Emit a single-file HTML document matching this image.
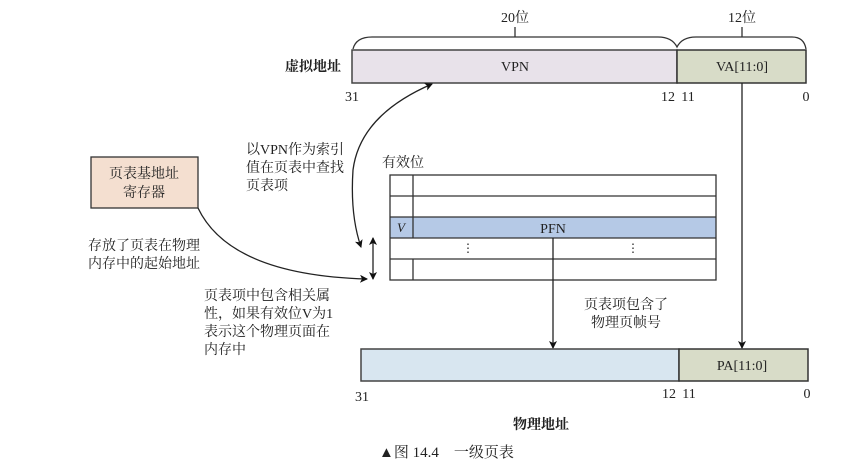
<!DOCTYPE html>
<html><head><meta charset="utf-8"><style>
html,body{margin:0;padding:0;background:#fff;width:865px;height:468px;overflow:hidden}
text{font-family:"Liberation Serif","Noto Serif CJK SC",serif;fill:#222}
</style></head><body>
<svg width="865" height="468" viewBox="0 0 865 468" xmlns="http://www.w3.org/2000/svg">
<defs><marker id="a" markerWidth="8" markerHeight="8" refX="7" refY="4" orient="auto-start-reverse" markerUnits="userSpaceOnUse"><path d="M0,0 L8,4 L0,8 L2,4 Z" fill="#111"/></marker></defs>
<text x="515" y="22" font-size="14" text-anchor="middle">20位</text>
<text x="742" y="22" font-size="14" text-anchor="middle">12位</text>
<path d="M353,49 Q356,37 372,37 L658,37 Q672,37 677,47 Q682,37 696,37 L792,37 Q804,37 806,49" fill="none" stroke="#333" stroke-width="1.3"/>
<line x1="515" y1="27" x2="515" y2="37" stroke="#333" stroke-width="1.3"/>
<line x1="742" y1="27" x2="742" y2="37" stroke="#333" stroke-width="1.3"/>
<rect x="352" y="50" width="325" height="33" fill="#e8e2ea" stroke="#444" stroke-width="1.5"/>
<rect x="677" y="50" width="129" height="33" fill="#d8dcc8" stroke="#333" stroke-width="1.5"/>
<text x="515" y="71" font-size="14" text-anchor="middle">VPN</text>
<text x="742" y="71" font-size="14" text-anchor="middle">VA[11:0]</text>
<text x="313" y="71" font-size="14" text-anchor="middle" font-weight="bold">虚拟地址</text>
<text x="352" y="101" font-size="14" text-anchor="middle">31</text>
<text x="668" y="101" font-size="14" text-anchor="middle">12</text>
<text x="688" y="101" font-size="14" text-anchor="middle">11</text>
<text x="806" y="101" font-size="14" text-anchor="middle">0</text>
<line x1="742" y1="83" x2="742" y2="348" stroke="#222" stroke-width="1.3" marker-end="url(#a)"/>
<rect x="91" y="157" width="107" height="51" fill="#f4dfd0" stroke="#333" stroke-width="1.3"/>
<text x="144" y="178" font-size="14" text-anchor="middle">页表基地址</text>
<text x="144" y="197" font-size="14" text-anchor="middle">寄存器</text>
<text x="246" y="154" font-size="14">以VPN作为索引</text>
<text x="246" y="172" font-size="14">值在页表中查找</text>
<text x="246" y="190" font-size="14">页表项</text>
<text x="88" y="250" font-size="14">存放了页表在物理</text>
<text x="88" y="268" font-size="14">内存中的起始地址</text>
<text x="204" y="300" font-size="14">页表项中包含相关属</text>
<text x="204" y="318" font-size="14">性，如果有效位V为1</text>
<text x="204" y="336" font-size="14">表示这个物理页面在</text>
<text x="204" y="354" font-size="14">内存中</text>
<path d="M432,84 Q360,115 353,170 Q350,215 361,247" fill="none" stroke="#222" stroke-width="1.3" marker-start="url(#a)" marker-end="url(#a)"/>
<path d="M198,208 Q230,275 367,279" fill="none" stroke="#222" stroke-width="1.3" marker-end="url(#a)"/>
<line x1="373" y1="238" x2="373" y2="279" stroke="#222" stroke-width="1.3" marker-start="url(#a)" marker-end="url(#a)"/>
<text x="382" y="167" font-size="14">有效位</text>
<rect x="390" y="217" width="326" height="21" fill="#b5c9e6"/>
<g stroke="#333" stroke-width="1.3" fill="none">
<rect x="390" y="175" width="326" height="105"/>
<line x1="390" y1="196" x2="716" y2="196"/>
<line x1="390" y1="217" x2="716" y2="217"/>
<line x1="390" y1="238" x2="716" y2="238"/>
<line x1="390" y1="259" x2="716" y2="259"/>
<line x1="413" y1="175" x2="413" y2="238"/>
<line x1="413" y1="259" x2="413" y2="280"/>
</g>
<text x="401" y="232" font-size="13" font-style="italic" text-anchor="middle">V</text>
<text x="553" y="233" font-size="14" text-anchor="middle">PFN</text>
<text x="468" y="252" font-size="12" text-anchor="middle">⋮</text>
<text x="633" y="252" font-size="12" text-anchor="middle">⋮</text>
<line x1="553" y1="238" x2="553" y2="348" stroke="#222" stroke-width="1.3" marker-end="url(#a)"/>
<text x="626" y="309" font-size="14" text-anchor="middle">页表项包含了</text>
<text x="626" y="327" font-size="14" text-anchor="middle">物理页帧号</text>
<rect x="361" y="349" width="318" height="32" fill="#d8e6f0" stroke="#444" stroke-width="1.5"/>
<rect x="679" y="349" width="129" height="32" fill="#d8dcc8" stroke="#333" stroke-width="1.5"/>
<text x="742" y="370" font-size="14" text-anchor="middle">PA[11:0]</text>
<text x="362" y="401" font-size="14" text-anchor="middle">31</text>
<text x="669" y="398" font-size="14" text-anchor="middle">12</text>
<text x="689" y="398" font-size="14" text-anchor="middle">11</text>
<text x="807" y="398" font-size="14" text-anchor="middle">0</text>
<text x="541" y="429" font-size="14" text-anchor="middle" font-weight="bold">物理地址</text>
<text x="379" y="457" font-size="15">▲图 14.4　一级页表</text>
</svg>
</body></html>
